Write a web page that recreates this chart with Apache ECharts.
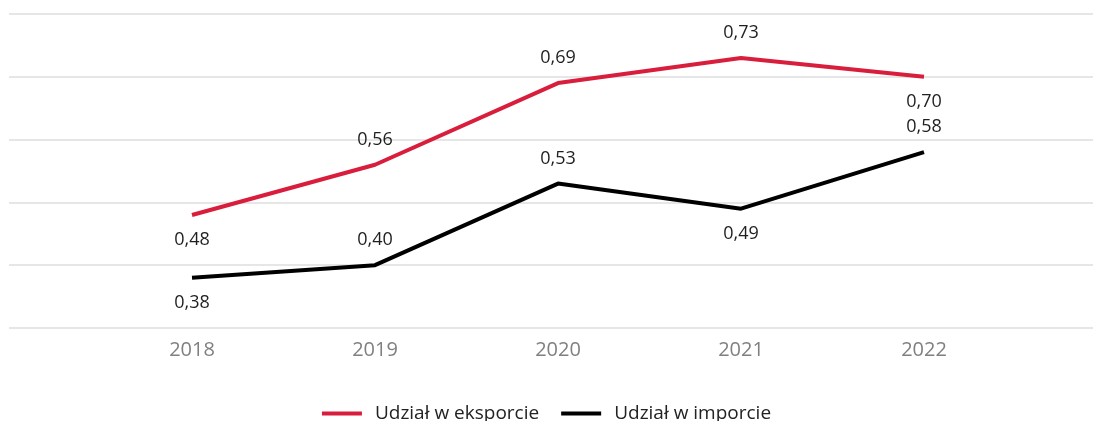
<!DOCTYPE html>
<html>
<head>
<meta charset="utf-8">
<script src="https://cdn.jsdelivr.net/npm/echarts@6/dist/echarts.min.js"></script>
<style>
html,body{margin:0;padding:0;background:#fff;}
#chart{width:1093px;height:421px;}
</style>
</head>
<body>
<div id="chart"></div>
<script>
var years = [2018, 2019, 2020, 2021, 2022];
var eksport = [0.48, 0.56, 0.69, 0.73, 0.70];
var importVals = [0.38, 0.40, 0.53, 0.49, 0.58];
var eksportLabelPos = ['bottom', 'top', 'top', 'top', 'bottom'];
var importLabelPos = ['bottom', 'top', 'top', 'bottom', 'top'];
var seriesNames = ['Udział w eksporcie', 'Udział w imporcie'];
var FONT = 'Open Sans';

function fmt(v) { return v.toFixed(2).replace('.', ','); }
function buildData(vals, pos) {
  return vals.map(function (v, i) {
    return { value: [years[i], v], label: { position: pos[i] } };
  });
}

var chart = echarts.init(document.getElementById('chart'));
chart.setOption({
  animation: false,
  textStyle: { fontFamily: FONT },
  grid: { left: 9, right: -14, top: 14, bottom: 93, containLabel: false, outerBoundsMode: 'none' },
  legend: {
    top: 399,
    left: 'center',
    itemWidth: 40,
    itemHeight: 4,
    itemGap: 22,
    icon: 'rect',
    textStyle: { fontFamily: FONT, fontSize: 19, color: '#222222', padding: [0, 0, 0, 8] },
    data: seriesNames
  },
  xAxis: {
    type: 'value',
    min: 2017,
    max: 2023,
    interval: 1,
    axisLine: { show: false },
    axisTick: { show: false },
    splitLine: { show: false },
    axisLabel: {
      fontFamily: FONT,
      fontSize: 20,
      color: '#808080',
      margin: 12,
      formatter: function (v) {
        return years.indexOf(v) >= 0 ? String(v) : '';
      }
    }
  },
  yAxis: {
    type: 'value',
    min: 0.3,
    max: 0.8,
    interval: 0.1,
    axisLine: { show: false },
    axisTick: { show: false },
    axisLabel: { show: false },
    splitLine: { lineStyle: { color: '#dedede', width: 1.5 } }
  },
  series: [
    {
      name: seriesNames[0],
      type: 'line',
      data: buildData(eksport, eksportLabelPos),
      symbol: 'circle',
      symbolSize: 0,
      showSymbol: true,
      lineStyle: { color: '#d81e3c', width: 4 },
      itemStyle: { color: '#d81e3c' },
      label: {
        show: true,
        distance: 16,
        fontFamily: FONT,
        fontSize: 18,
        color: '#1f1f1f',
        formatter: function (p) { return fmt(p.value[1]); }
      }
    },
    {
      name: seriesNames[1],
      type: 'line',
      data: buildData(importVals, importLabelPos),
      symbol: 'circle',
      symbolSize: 0,
      showSymbol: true,
      lineStyle: { color: '#000000', width: 4 },
      itemStyle: { color: '#000000' },
      label: {
        show: true,
        distance: 16,
        fontFamily: FONT,
        fontSize: 18,
        color: '#1f1f1f',
        formatter: function (p) { return fmt(p.value[1]); }
      }
    }
  ]
});
</script>
</body>
</html>
